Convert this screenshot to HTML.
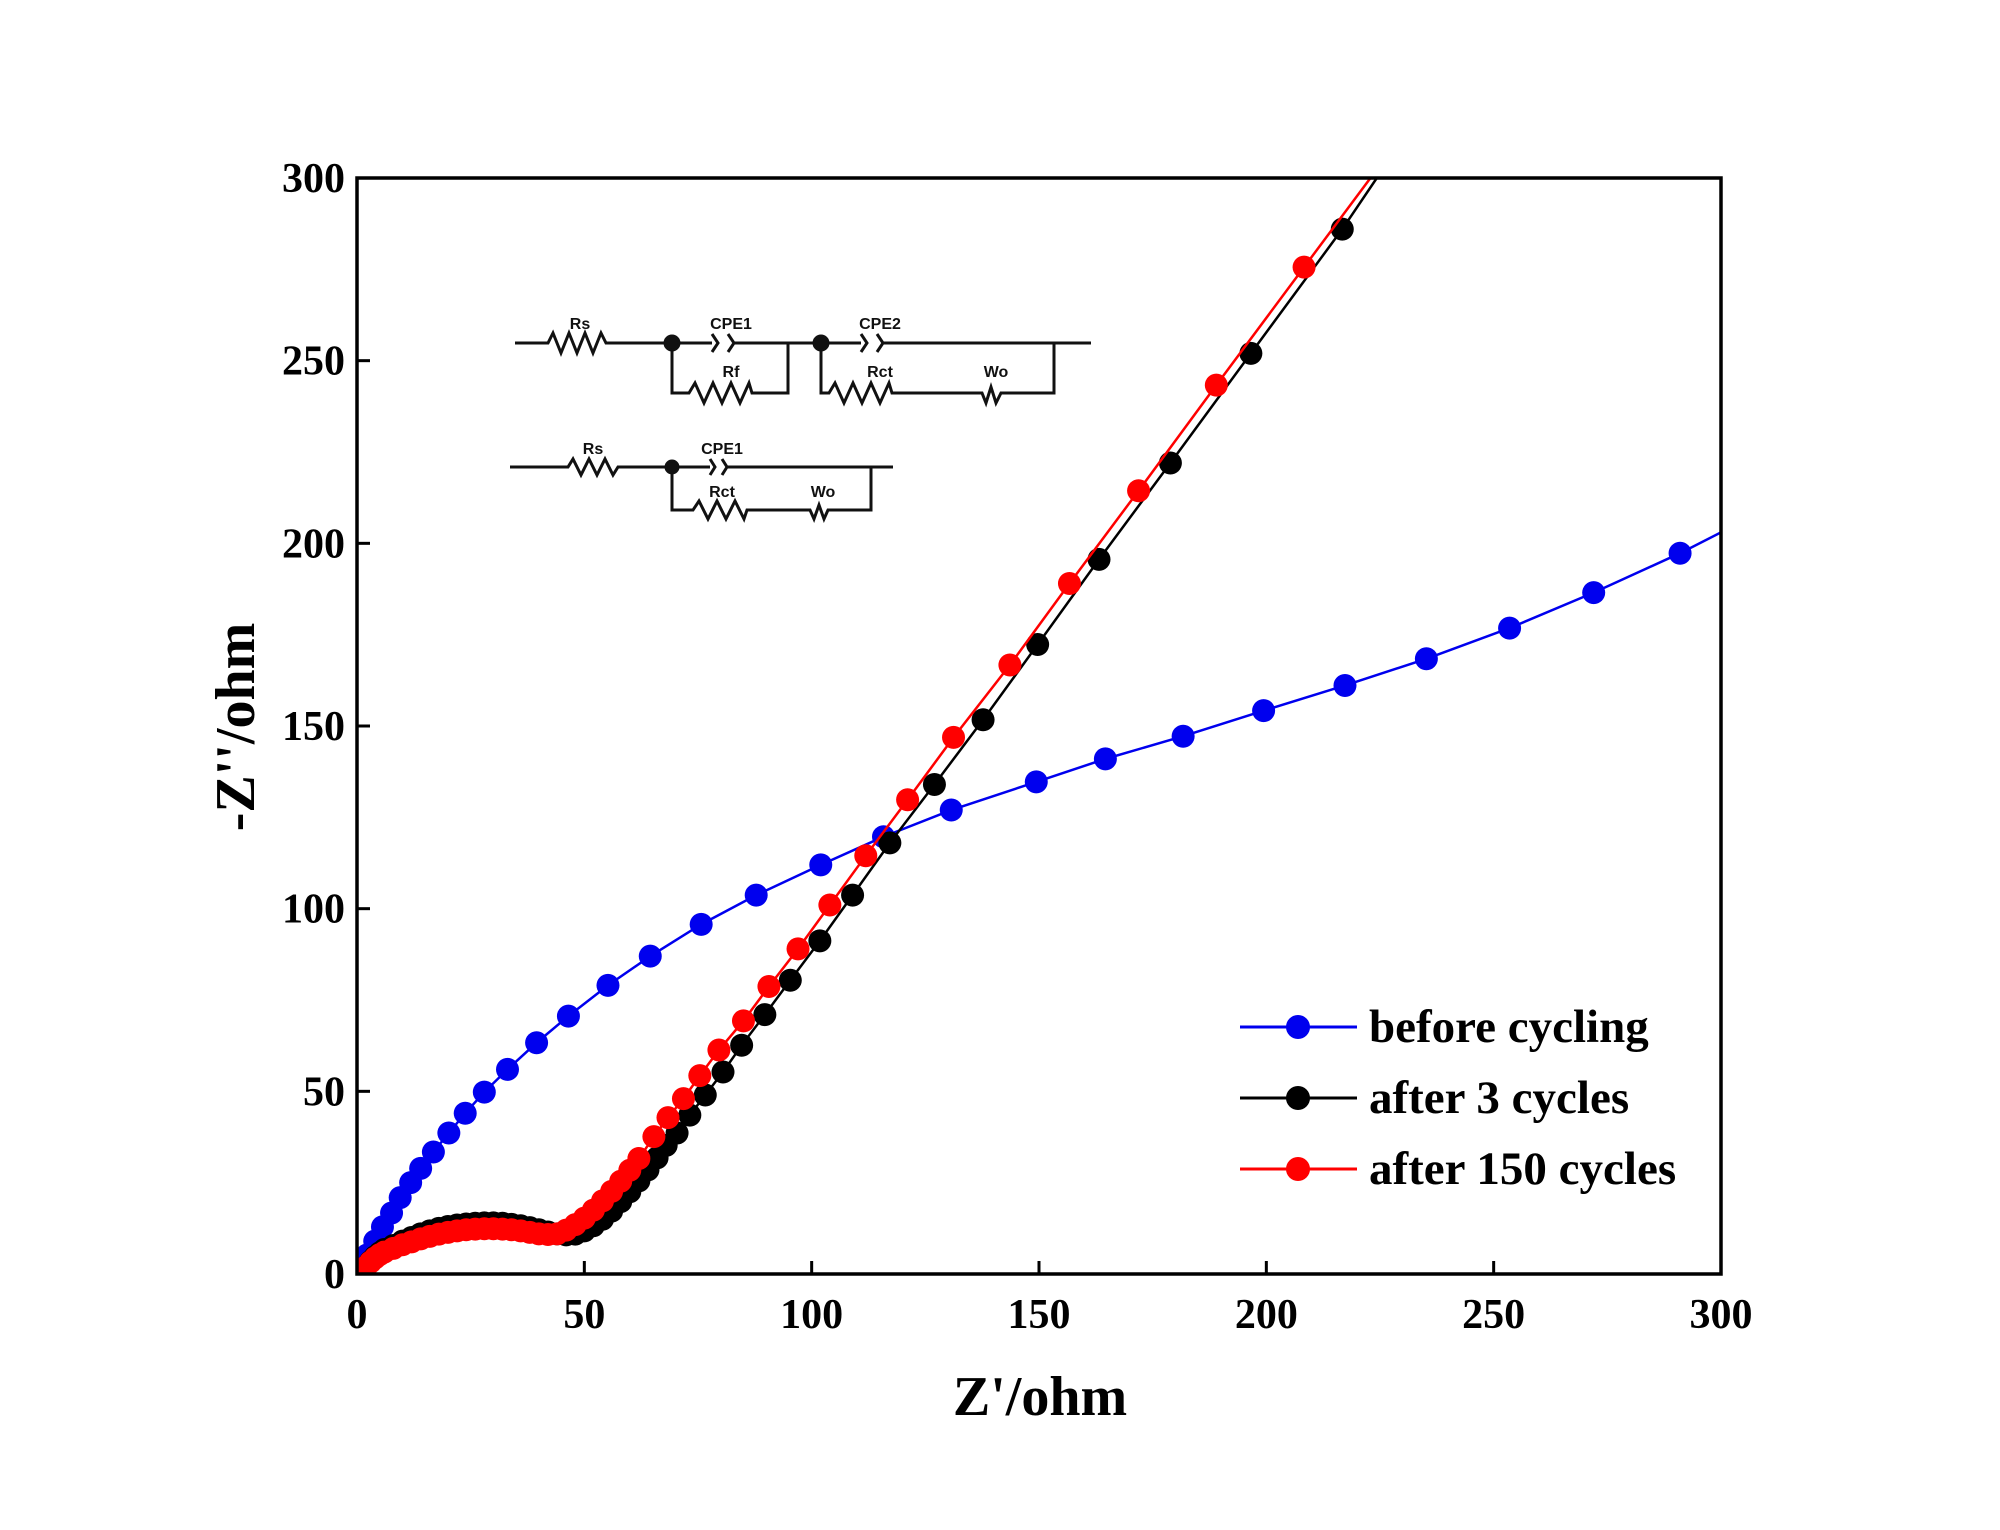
<!DOCTYPE html>
<html><head><meta charset="utf-8"><style>
body{margin:0;background:#fff;}
svg{display:block;}
text{font-family:"Liberation Serif",serif;font-weight:bold;}
.ckt text{font-family:"Liberation Sans",sans-serif;font-weight:bold;font-size:16px;}
</style></head><body>
<svg id="chart" width="2000" height="1530" viewBox="0 0 2000 1530">
<defs><clipPath id="plotclip"><rect x="357" y="178" width="1364" height="1096"/></clipPath></defs>
<g id="inset" class="ckt" stroke="#111" stroke-width="3" fill="none">
  <path d="M515 343 H548 l5 -10 l8 20 l8 -20 l8 20 l8 -20 l8 20 l8 -20 l5 10 H712 M712 334 l6 9 l-6 9 M728 334 l6 9 l-6 9 M734 343 H861 M861 334 l6 9 l-6 9 M877 334 l6 9 l-6 9 M883 343 H1091 M672 343 V393 H689 l6 -10 l9 20 l9 -20 l9 20 l9 -20 l9 20 l9 -20 l3 10 H788 V343 M821 343 V393 H829 l6 -10 l9 20 l9 -20 l9 20 l9 -20 l9 20 l9 -20 l3 10 H982 l4 10 l5 -16 l5 16 l5 -10 H1054 V343"/>
  <circle cx="672" cy="343" r="7" fill="#111"/><circle cx="821" cy="343" r="7" fill="#111"/>
  <path d="M510 467 H568 l5 -8 l8 16 l8 -16 l8 16 l8 -16 l8 16 l5 -8 H710 M710 459 l5 8 l-5 8 M722 459 l5 8 l-5 8 M727 467 H893 M672 467 V510 H693 l6 -9 l9 18 l9 -18 l9 18 l9 -18 l9 18 l3 -9 H810 l4 9 l5 -14 l5 14 l4 -9 H871 V467"/>
  <circle cx="672" cy="467" r="6" fill="#111"/>
  <g fill="#111" stroke="none" text-anchor="middle">
    <text x="580" y="329">Rs</text><text x="731" y="329">CPE1</text><text x="880" y="329">CPE2</text>
    <text x="731" y="377">Rf</text><text x="880" y="377">Rct</text><text x="996" y="377">Wo</text>
    <text x="593" y="454">Rs</text><text x="722" y="454">CPE1</text>
    <text x="722" y="497">Rct</text><text x="823" y="497">Wo</text>
  </g>
</g>
<g id="plot" clip-path="url(#plotclip)"></g>
<rect x="357" y="178" width="1364" height="1096" fill="none" stroke="#000" stroke-width="3.5"/>
<g id="axes"></g>
<text x="1040" y="1415" text-anchor="middle" font-size="56">Z'/ohm</text>
<text transform="translate(254,727) rotate(-90)" text-anchor="middle" font-size="56">-Z''/ohm</text>
<g id="legend"></g>
</svg>
<script>
const xTicks=[0,50,100,150,200,250,300];
const yTicks=[0,50,100,150,200,250,300];
const seriesNames=["before cycling","after 3 cycles","after 150 cycles"];
const seriesColors=["#0000ee","#000000","#ff0000"];
const beforeX=[0.8,2.2,3.9,5.6,7.6,9.5,11.8,14,16.8,20.2,23.8,28,33.1,39.5,46.5,55.2,64.5,75.7,87.8,102,115.8,130.7,149.4,164.6,181.7,199.4,217.3,235.2,253.5,272,291,300];
const beforeY=[2,5.2,9,12.9,16.7,20.9,25,28.9,33.4,38.6,44,49.8,56,63.3,70.6,79,87,95.7,103.7,112,119.7,127,134.7,141,147.2,154.2,161.1,168.4,176.8,186.5,197.3,203];
const after3X=[1,2,3,4,5,6,8,10,12,14,16,18,20,22,24,26,28,30,32,34,36,38,40,42,44,46,48,50,52,54,56,58,60,62,64,66,68,70.4,73.2,76.6,80.5,84.6,89.7,95.3,101.8,109,117.2,127,137.7,149.7,163.2,178.9,196.6,216.7,224.3];
const after3Y=[0.5,2,3.5,4.8,5.8,6.7,7.8,9,10,11,11.8,12.5,13,13.4,13.7,13.9,14,14,13.9,13.6,13.2,12.7,12.1,11.5,11,10.7,10.9,11.8,13.2,15,17.2,19.8,22.5,25.5,28.5,31.8,35.2,38.6,43.5,49,55.3,62.6,71,80.4,91.2,103.7,118,134,151.7,172.3,195.6,222,252,286,300];
const after150X=[1,2,3,4,5,6,8,10,12,14,16,18,20,22,24,26,28,30,32,34,36,38,40,42,44,46,48,50,52,54,56,58,60,62,65.3,68.4,71.8,75.4,79.6,85,90.6,97,104,111.9,121.1,131.2,143.6,156.7,171.9,189,208.3,222.9];
const after150Y=[0.5,2,3.3,4.4,5.3,6,7,8,8.8,9.6,10.3,10.9,11.4,11.8,12.1,12.3,12.4,12.4,12.3,12.1,11.8,11.4,11,10.8,11,12,13.5,15.3,17.5,20,22.6,25.4,28.4,31.6,37.6,42.8,48,54.3,61.3,69.3,78.7,89,101,114.5,129.8,146.9,166.7,189,214.4,243.3,275.6,300];

const X0=357,X1=1721,Y0=1274,Y1=178;
const sx=v=>X0+(v-0)/(300-0)*(X1-X0);
const sy=v=>Y0-(v-0)/(300-0)*(Y0-Y1);
const NS="http://www.w3.org/2000/svg";
function mk(tag,attrs,parent){const e=document.createElementNS(NS,tag);for(const k in attrs)e.setAttribute(k,attrs[k]);parent.appendChild(e);return e;}
const axes=document.getElementById('axes');
xTicks.forEach(t=>{
  const l=mk('line',{x1:sx(t),x2:sx(t),y1:Y0,y2:Y0-13,stroke:'#000','stroke-width':3},axes);
  
  
  const tx=mk('text',{x:sx(t),y:Y0+54,'text-anchor':'middle','font-size':42},axes);
  tx.textContent=t;
  
  
});
yTicks.forEach(t=>{
  const l=mk('line',{x1:X0,x2:X0+13,y1:sy(t),y2:sy(t),stroke:'#000','stroke-width':3},axes);
  
  
  const tx=mk('text',{x:345,y:sy(t)+14,'text-anchor':'end','font-size':42},axes);
  tx.textContent=t;
  
  
});
const plot=document.getElementById('plot');
const allX=[beforeX,after3X,after150X],allY=[beforeY,after3Y,after150Y];
const keys=['before-cycling','after-3-cycles','after-150-cycles'];
[0,1,2].forEach(i=>{
  const g=mk('g',{},plot);
  
  
  const pts=allX[i].map((x,j)=>sx(x)+','+sy(allY[i][j])).join(' ');
  const pl=mk('polyline',{points:pts,fill:'none',stroke:seriesColors[i],'stroke-width':2.5},g);
  
  
  allX[i].forEach((x,j)=>{
    if(allY[i][j]>=300||x>=300) return;
    const c=mk('circle',{cx:sx(x),cy:sy(allY[i][j]),r:11.5,fill:seriesColors[i]},g);
    
    
  });
});
const leg=document.getElementById('legend');


[0,1,2].forEach(i=>{
  const y=1027+i*71;
  const g=mk('g',{},leg);
  
  
  mk('line',{x1:1240,x2:1357,y1:y,y2:y,stroke:seriesColors[i],'stroke-width':3},g);
  mk('circle',{cx:1298,cy:y,r:12,fill:seriesColors[i]},g);
  const t=mk('text',{x:1369,y:y+15,'font-size':47},g);
  t.textContent=seriesNames[i];
});
</script>
</body></html>
